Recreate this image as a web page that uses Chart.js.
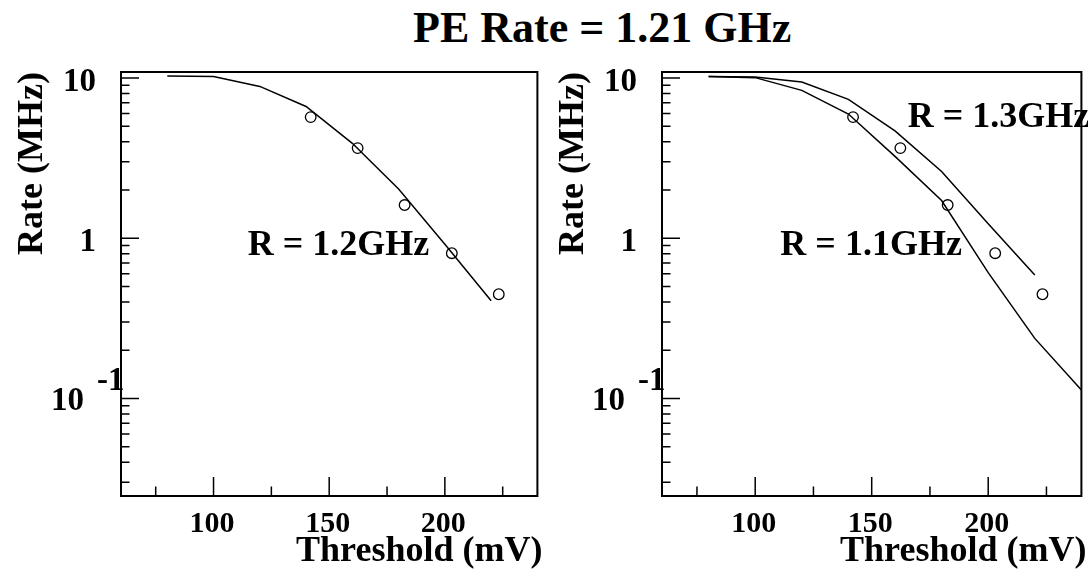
<!DOCTYPE html>
<html>
<head>
<meta charset="utf-8">
<script src="https://cdn.jsdelivr.net/npm/chart.js@4.4.1/dist/chart.umd.min.js"></script>
<style>
  html, body { margin: 0; padding: 0; background: #fff; width: 1088px; height: 575px; overflow: hidden; }
  .panel { position: absolute; top: 0; width: 544px; height: 575px; }
  #title { position: absolute; left: 413px; top: 6px; font: bold 44px "Liberation Serif", "Times New Roman", serif;
           line-height: 43px; white-space: nowrap; color: #000; }
</style>
</head>
<body>
<div id="title">PE Rate = 1.21 GHz</div>
<div class="panel" style="left:0"><canvas id="leftChart" width="544" height="575"></canvas></div>
<div class="panel" style="left:544px"><canvas id="rightChart" width="544" height="575"></canvas></div>
<script>
// -----------------------------
// Data
// -----------------------------
const simThreshold = [80, 100, 120, 140, 160, 180, 200, 220];
const simThresholdWide = [80, 100, 120, 140, 160, 180, 200, 220, 240];
const rate12GHz = [10.3, 10.2, 8.86, 6.64, 3.91, 2.03, 0.917, 0.407];
const rate13GHz = [10.2, 10.15, 9.44, 7.35, 4.68, 2.61, 1.23, 0.59];
const rate11GHz = [10.2, 10.05, 8.37, 5.96, 3.24, 1.72, 0.61, 0.237, 0.113];

const measThreshold = [142, 162.3, 182.6, 203, 223.3];
const measRate = [5.7, 3.65, 1.61, 0.806, 0.447];

const xMajorTicks = [100, 150, 200];
const xMinorTicks = [75, 125, 175, 225];
const yMajorTicks = [0.1, 1, 10];
const yMinorTicks = [0.03, 0.04, 0.05, 0.06, 0.07, 0.08, 0.09,
                     0.2, 0.3, 0.4, 0.5, 0.6, 0.7, 0.8, 0.9,
                     2, 3, 4, 5, 6, 7, 8, 9];

const X_MIN = 60, X_MAX = 240;
const Y_MIN = 0.0246, Y_MAX = 10.9;

const FONT = '"Liberation Serif", "Times New Roman", serif';

function pts(xs, ys) {
  return ys.map((v, i) => ({x: xs[i], y: v}));
}

// -----------------------------
// Frame, inward ticks, labels (ROOT style)
// -----------------------------
const framePlugin = {
  id: 'rootFrame',
  afterDraw(chart, args, opts) {
    const {ctx, chartArea: a, scales: {x, y}} = chart;
    ctx.save();
    ctx.strokeStyle = '#000';
    ctx.fillStyle = '#000';

    // ticks
    ctx.lineWidth = 1.5;
    ctx.beginPath();
    xMajorTicks.forEach(v => { const px = x.getPixelForValue(v); ctx.moveTo(px, a.bottom); ctx.lineTo(px, a.bottom - 19); });
    xMinorTicks.forEach(v => { const px = x.getPixelForValue(v); ctx.moveTo(px, a.bottom); ctx.lineTo(px, a.bottom - 9.5); });
    yMajorTicks.forEach(v => { const py = y.getPixelForValue(v); ctx.moveTo(a.left, py); ctx.lineTo(a.left + 18, py); });
    yMinorTicks.forEach(v => { const py = y.getPixelForValue(v); ctx.moveTo(a.left, py); ctx.lineTo(a.left + 8.5, py); });
    ctx.stroke();

    // frame
    ctx.lineWidth = 2;
    ctx.strokeRect(a.left, a.top, a.right - a.left, a.bottom - a.top);

    // x tick labels
    ctx.font = 'bold 30px ' + FONT;
    ctx.textAlign = 'center';
    ctx.textBaseline = 'alphabetic';
    xMajorTicks.forEach(v => ctx.fillText(String(v), x.getPixelForValue(v) - 1.5, a.bottom + 36));

    // y tick labels
    ctx.font = 'bold 33px ' + FONT;
    ctx.textAlign = 'right';
    yMajorTicks.forEach(v => {
      const py = y.getPixelForValue(v);
      if (v >= 1) {
        ctx.fillText(String(v), a.left - 25, py + 13);
      } else {
        const exp = Math.round(Math.log10(v));
        ctx.fillText('10', a.left - 37, py + 12);
        ctx.textAlign = 'left';
        ctx.fillText(String(exp), a.left - 24, py - 8.5);
        ctx.textAlign = 'right';
      }
    });

    // axis titles
    ctx.font = 'bold 36px ' + FONT;
    ctx.textAlign = 'right';
    ctx.fillText('Threshold (mV)', a.right + 5, a.bottom + 64.5);
    ctx.save();
    ctx.translate(a.left - 79, a.top);
    ctx.rotate(-Math.PI / 2);
    ctx.textAlign = 'right';
    ctx.fillText('Rate (MHz)', 0, 0);
    ctx.restore();

    // curve labels
    ctx.font = 'bold 36px ' + FONT;
    ctx.textAlign = 'left';
    (opts.labels || []).forEach(l => {
      ctx.fillText(l.text, x.getPixelForValue(l.x), y.getPixelForValue(l.y));
    });
    ctx.restore();
  }
};

function curve(data) {
  return {
    data: data, showLine: true, borderColor: '#000', borderWidth: 1.5,
    pointRadius: 0, fill: false, tension: 0
  };
}

function measured() {
  return {
    data: pts(measThreshold, measRate), showLine: false,
    pointStyle: 'circle', pointRadius: 5.3, pointBorderWidth: 1.3,
    pointBorderColor: '#000', pointBackgroundColor: 'rgba(255,255,255,0)'
  };
}

function makePanel(id, datasets, labels, padLeft, padRight) {
  return new Chart(document.getElementById(id), {
    type: 'scatter',
    data: {datasets: datasets},
    options: {
      responsive: false,
      animation: false,
      layout: {padding: {left: padLeft, right: padRight, top: 72, bottom: 79}},
      plugins: {legend: {display: false}, tooltip: {enabled: false}, rootFrame: {labels: labels}},
      scales: {
        x: {type: 'linear', min: X_MIN, max: X_MAX, display: false},
        y: {type: 'logarithmic', min: Y_MIN, max: Y_MAX, display: false}
      }
    },
    plugins: [framePlugin]
  });
}

makePanel('leftChart',
  [curve(pts(simThreshold, rate12GHz)), measured()],
  [{text: 'R = 1.2GHz', x: 114.8, y: 0.787}],
  121, 3);

makePanel('rightChart',
  [curve(pts(simThreshold, rate13GHz)), curve(pts(simThresholdWide, rate11GHz)), measured()],
  [{text: 'R = 1.3GHz', x: 165.5, y: 4.98}, {text: 'R = 1.1GHz', x: 110.8, y: 0.787}],
  118, 4);
</script>
</body>
</html>
